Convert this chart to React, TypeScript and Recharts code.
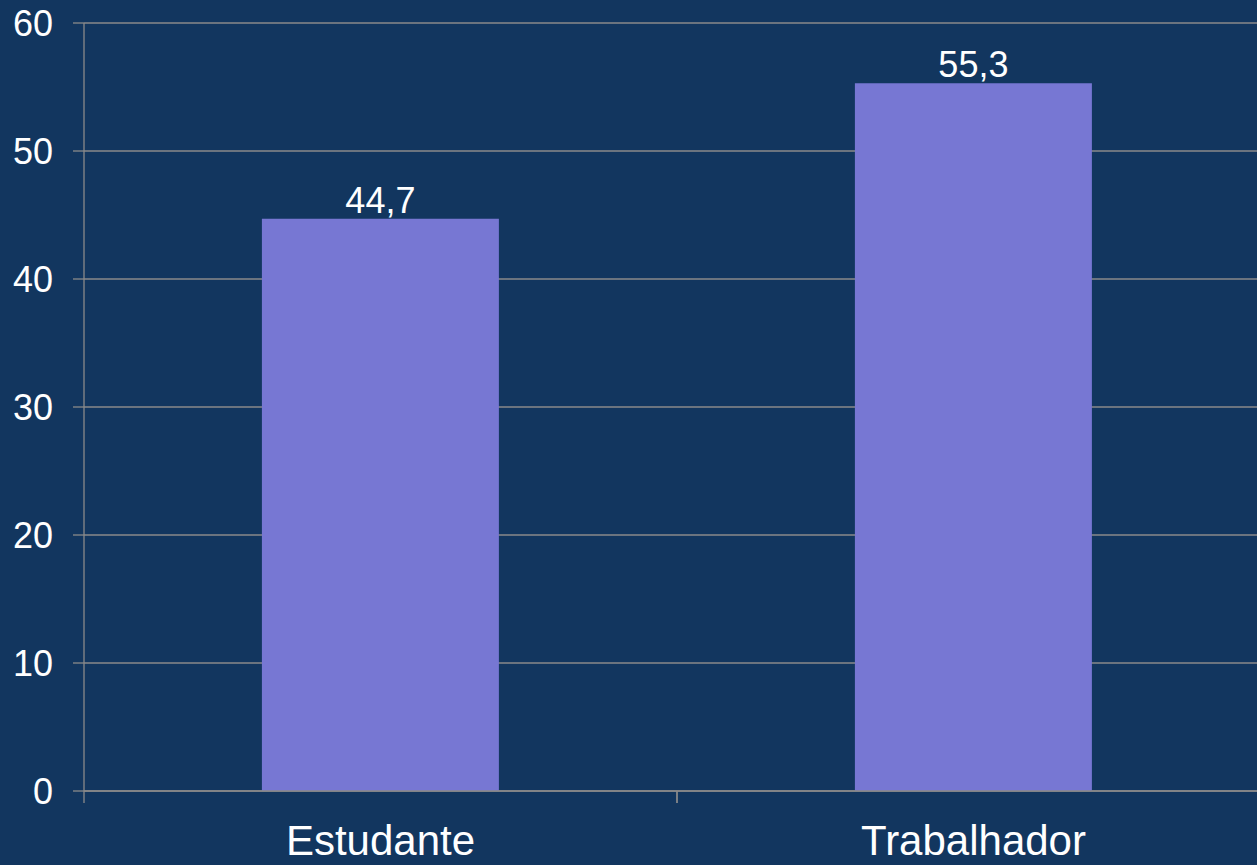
import React from "react";
import { BarChart, Bar, XAxis, YAxis, CartesianGrid, LabelList } from "recharts";

const categories = ["Estudante", "Trabalhador"];
const values = [44.7, 55.3];
const yTicks = [0, 10, 20, 30, 40, 50, 60];

const data = categories.map((name, i) => ({ name, value: values[i] }));

const BG = "#12365f";
const BAR = "#7777d3";
const GRID = "#8a8a8a";
const FONT = "'Liberation Sans', Arial, sans-serif";

const fmt = (v: number) => String(v).replace(".", ",");

const CategoryTick = (props: any) => {
  const { x, y, payload } = props;
  const half = payload && payload.offset ? payload.offset : 0;
  return (
    <g>
      <line x1={x - half} y1={y} x2={x - half} y2={y + 12} stroke={GRID} strokeWidth={1.3} />
      <line x1={x + half} y1={y} x2={x + half} y2={y + 12} stroke={GRID} strokeWidth={1.3} />
      <text x={x} y={y + 64} textAnchor="middle" fill="#ffffff" fontSize={42} fontFamily={FONT}>
        {payload.value}
      </text>
    </g>
  );
};

export default function App() {
  return (
    <div
      style={{
        position: "absolute",
        left: 0,
        top: 0,
        width: 1257,
        height: 865,
        overflow: "hidden",
        background: BG,
      }}
    >
      <BarChart
        width={1275}
        height={865}
        data={data}
        margin={{ top: 23, right: 5, bottom: 0, left: 0 }}
        barCategoryGap="30%"
      >
        <CartesianGrid vertical={false} stroke={GRID} strokeWidth={1.3} />
        <XAxis
          dataKey="name"
          height={74}
          axisLine={{ stroke: GRID, strokeWidth: 1.3 }}
          tickLine={false}
          tickSize={0}
          tickMargin={0}
          tick={<CategoryTick />}
          interval={0}
        />
        <YAxis
          width={84}
          domain={[0, 60]}
          ticks={yTicks}
          axisLine={{ stroke: GRID, strokeWidth: 1.3 }}
          tickLine={{ stroke: GRID, strokeWidth: 1.3 }}
          tickSize={11}
          tickMargin={20}
          tick={{ fill: "#ffffff", fontSize: 36, fontFamily: FONT }}
        />
        <Bar dataKey="value" fill={BAR} isAnimationActive={false}>
          <LabelList
            dataKey="value"
            position="top"
            offset={6}
            formatter={(v: any) => fmt(Number(v))}
            fill="#ffffff"
            fontSize={36}
            fontFamily={FONT}
          />
        </Bar>
      </BarChart>
    </div>
  );
}
